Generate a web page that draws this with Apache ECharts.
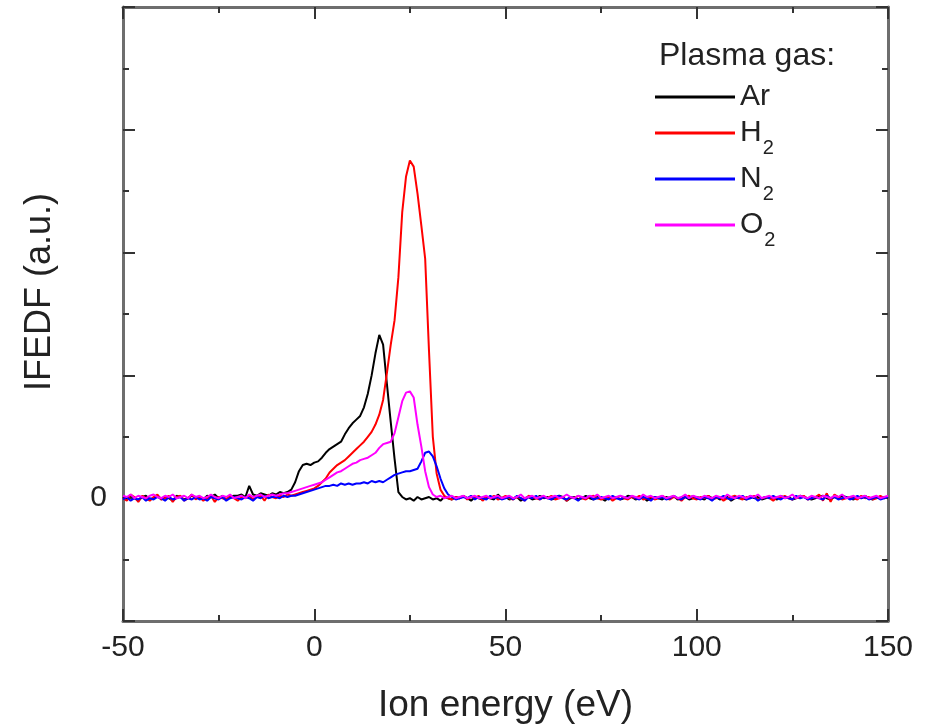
<!DOCTYPE html>
<html>
<head>
<meta charset="utf-8">
<script src="https://cdn.jsdelivr.net/npm/echarts@6/dist/echarts.min.js"></script>
<style>
html,body{margin:0;padding:0;background:#fff;}
#chart{width:936px;height:726px;}
</style>
</head>
<body>
<div id="chart"></div>
<script>
// Energy grid: -50 eV to 150 eV, 1 eV steps
var ENERGY_START = -50, ENERGY_STEP = 1;

var ar = [
0.01,-0.01,0.02,0.00,-0.02,0.01,0.02,-0.01,0.00,0.02,
-0.01,0.01,0.00,-0.02,0.02,0.01,-0.01,0.00,0.02,0.01,
0.00,-0.01,0.02,0.01,0.03,0.00,0.02,-0.01,0.01,0.02,
0.02,0.03,0.01,0.10,0.03,0.02,0.04,0.03,0.02,0.04,
0.03,0.05,0.04,0.05,0.07,0.13,0.22,0.27,0.28,0.27,
0.29,0.30,0.33,0.37,0.40,0.42,0.44,0.46,0.52,0.57,
0.61,0.64,0.67,0.74,0.85,1.00,1.18,1.33,1.25,0.93,
0.62,0.32,0.05,0.01,-0.01,0.00,-0.02,0.01,-0.01,0.00,
0.01,-0.01,0.00,-0.02,0.01,0.00,-0.01,0.01,0.00,0.02,
0.00,-0.02,0.01,0.00,-0.01,0.01,0.00,-0.01,0.03,0.00,
0.01,-0.01,0.00,0.01,-0.02,0.00,0.01,-0.01,0.00,0.02,
0.00,0.01,-0.01,0.00,0.02,0.01,-0.02,0.00,0.01,-0.01,
0.00,0.02,0.00,-0.01,0.01,0.00,-0.02,0.01,0.00,0.01,
-0.01,0.00,0.02,0.01,-0.01,0.00,0.01,-0.02,0.00,0.01,
0.00,-0.01,0.01,0.00,0.02,-0.01,0.00,0.01,-0.01,0.00,
0.01,0.00,-0.01,0.02,0.00,0.01,-0.01,0.00,0.01,-0.02,
0.00,0.01,0.00,-0.01,0.02,0.00,0.01,-0.01,0.00,0.01,
0.00,-0.01,0.02,0.00,0.01,-0.01,0.00,0.02,0.01,0.00,
-0.01,0.00,0.01,0.02,0.00,-0.01,0.01,0.00,0.02,0.01,
0.00,-0.01,0.01,0.00,0.02,0.00,-0.01,0.01,0.00,0.01,0.00
];

var h2 = [
0.00,-0.02,0.03,0.01,-0.03,0.02,0.00,-0.02,0.01,0.03,
-0.01,0.00,0.02,-0.03,0.01,0.02,-0.02,0.00,0.03,-0.01,
0.01,-0.02,0.00,0.02,-0.03,0.01,0.00,-0.01,0.02,0.00,
-0.02,0.01,0.00,0.02,-0.01,0.01,0.02,-0.02,0.03,0.01,
0.00,0.02,0.01,0.03,0.02,0.03,0.04,0.05,0.06,0.07,
0.08,0.10,0.13,0.16,0.21,0.24,0.27,0.29,0.31,0.34,
0.37,0.40,0.43,0.46,0.50,0.54,0.60,0.68,0.80,1.02,
1.25,1.45,1.80,2.33,2.62,2.75,2.70,2.48,2.22,1.95,
1.20,0.50,0.20,0.07,0.02,0.00,-0.01,0.01,0.00,0.02,
-0.01,0.01,0.00,0.02,-0.02,0.01,0.00,0.02,-0.01,0.00,
0.02,0.00,-0.01,0.01,0.00,-0.02,0.02,0.01,0.00,-0.01,
0.01,0.00,0.02,-0.01,0.00,0.01,-0.02,0.01,0.00,0.02,
0.00,-0.01,0.01,0.02,0.00,-0.01,0.00,0.01,-0.02,0.00,
0.02,0.00,-0.01,0.01,0.00,0.02,-0.01,0.00,0.01,-0.01,
0.00,0.02,0.00,-0.01,0.01,0.00,-0.02,0.01,0.02,0.00,
-0.01,0.01,0.00,0.02,-0.01,0.00,0.01,-0.02,0.00,0.01,
0.02,0.00,-0.01,0.01,0.00,0.02,-0.01,0.00,0.01,0.00,
-0.02,0.01,0.00,0.02,0.00,-0.01,0.01,0.00,0.02,-0.01,
0.00,0.01,0.03,-0.02,0.04,-0.03,0.03,0.01,-0.01,0.00,
0.01,0.00,-0.01,0.02,0.00,0.01,-0.01,0.00,0.02,0.00,0.01
];

var n2 = [
-0.01,0.01,-0.02,0.00,-0.01,0.01,-0.02,0.00,-0.01,0.01,
0.00,-0.02,0.01,-0.01,0.00,0.01,-0.02,0.00,-0.01,0.01,
-0.01,0.00,-0.02,0.01,0.00,-0.01,0.01,-0.02,0.00,0.01,
0.00,-0.01,0.01,0.00,-0.02,0.01,0.00,0.02,0.00,0.01,
0.01,0.00,0.02,0.01,0.02,0.02,0.03,0.04,0.05,0.06,
0.07,0.08,0.09,0.10,0.10,0.11,0.10,0.12,0.11,0.12,
0.11,0.12,0.12,0.13,0.12,0.14,0.13,0.14,0.13,0.15,
0.17,0.19,0.20,0.21,0.22,0.22,0.23,0.24,0.30,0.37,
0.38,0.34,0.26,0.16,0.08,0.03,0.01,-0.01,0.00,0.01,
0.00,0.02,-0.01,0.01,0.00,-0.01,0.02,0.00,0.01,-0.01,
0.00,0.01,-0.01,0.02,0.00,-0.02,0.01,0.00,0.02,-0.01,
0.01,0.00,-0.01,0.01,0.02,0.00,-0.01,0.01,0.00,-0.02,
0.01,0.00,0.02,-0.01,0.00,0.01,0.00,-0.01,0.02,0.00,
-0.01,0.01,0.00,0.02,0.00,-0.01,0.01,0.00,-0.02,0.01,
0.00,0.01,-0.01,0.00,0.02,0.00,-0.01,0.01,0.00,0.02,
0.00,-0.01,0.01,0.00,-0.02,0.01,0.00,0.02,0.00,-0.01,
0.01,0.00,0.02,-0.01,0.00,0.01,-0.02,0.00,0.01,0.00,
0.02,0.00,-0.01,0.01,0.00,-0.01,0.02,0.00,0.01,-0.01,
0.00,0.01,0.00,-0.01,0.02,0.00,0.01,-0.01,0.00,0.01,
-0.01,0.00,0.02,0.00,0.01,-0.01,0.00,0.01,-0.01,0.00,0.01
];

var o2 = [
0.02,0.01,0.03,0.00,0.02,0.01,0.00,0.02,0.03,0.01,
0.00,0.02,0.01,0.03,0.00,0.01,0.02,0.00,0.03,0.01,
0.02,0.00,0.01,0.03,0.01,0.00,0.02,0.01,0.03,0.00,
0.01,0.02,0.00,0.03,0.01,0.02,0.03,0.01,0.02,0.03,
0.02,0.03,0.04,0.04,0.05,0.06,0.07,0.08,0.09,0.10,
0.11,0.12,0.13,0.15,0.17,0.19,0.21,0.22,0.24,0.26,
0.28,0.29,0.31,0.32,0.33,0.35,0.37,0.41,0.44,0.45,
0.46,0.53,0.66,0.79,0.86,0.87,0.82,0.60,0.42,0.22,
0.09,0.03,0.01,0.02,0.00,0.01,0.02,0.00,0.01,0.02,
0.00,0.01,0.02,0.00,0.01,0.02,0.00,0.01,0.02,0.00,
0.01,0.02,0.00,0.01,0.03,0.00,0.01,0.02,0.00,0.01,
0.02,0.00,0.01,0.02,0.00,0.01,0.03,0.01,0.00,0.02,
0.01,0.00,0.02,0.01,0.03,0.00,0.01,0.02,0.00,0.01,
0.02,0.01,0.00,0.02,0.01,0.00,0.03,0.01,0.02,0.00,
0.01,0.02,0.00,0.01,0.02,0.00,0.01,0.03,0.00,0.02,
0.01,0.00,0.02,0.01,0.00,0.02,0.01,0.00,0.03,0.01,
0.00,0.02,0.01,0.00,0.02,0.01,0.03,0.00,0.01,0.02,
0.00,0.01,0.02,0.00,0.01,0.03,0.00,0.02,0.01,0.00,
0.02,0.01,0.00,0.02,0.01,0.00,0.02,0.01,0.03,0.00,
0.01,0.02,0.00,0.01,0.02,0.00,0.01,0.02,0.00,0.01,0.02
];

var seriesNames = ['Ar', 'H2', 'N2', 'O2'];
var seriesColors = ['#000000', '#ff0000', '#0000ff', '#ff00ff'];
var seriesValues = [ar, h2, n2, o2];

var xTicks = [-50, 0, 50, 100, 150];
var yZeroLabel = '0';

function pairs(vals) {
  var out = [];
  for (var i = 0; i < vals.length; i++) out.push([ENERGY_START + i * ENERGY_STEP, vals[i]]);
  return out;
}

var chart = echarts.init(document.getElementById('chart'), null, {renderer: 'canvas'});
var font = 'Liberation Sans, Arial, sans-serif';
var axisColor = '#6e6e6e';
var tickColor = '#333';

var legendRich = {
  a: {fontSize: 30, fontFamily: font, color: '#222', lineHeight: 30},
  n: {fontSize: 30, fontFamily: font, color: '#222', lineHeight: 50, verticalAlign: 'middle'},
  s: {fontSize: 20, fontFamily: font, color: '#222', lineHeight: 20, verticalAlign: 'bottom', padding: [0, 0, 0, 1]}
};

var option = {
  animation: false,
  backgroundColor: '#fff',
  title: {
    text: 'Plasma gas:',
    left: 659, top: 40, padding: 0,
    textStyle: {fontSize: 32, fontWeight: 'normal', fontFamily: font, color: '#222'}
  },
  legend: {
    orient: 'vertical',
    left: 655, top: 82, padding: 0,
    icon: 'rect',
    itemWidth: 80, itemHeight: 3, itemGap: 6, itemTextGap: 6,
    data: seriesNames,
    formatter: function (name) {
      if (name.length === 2 && /\d/.test(name[1])) return '{n|' + name[0] + '}{s|' + name[1] + '}';
      return '{a|' + name + '}';
    },
    textStyle: {fontSize: 30, fontFamily: font, color: '#222', rich: legendRich}
  },
  grid: {left: 123, right: 48, top: 7, bottom: 105, containLabel: false, outerBoundsMode: 'none'},
  xAxis: [{
    type: 'value', position: 'bottom', min: -50, max: 150, interval: 50,
    axisLine: {show: true, onZero: false, lineStyle: {color: axisColor, width: 3}},
    axisTick: {show: true, inside: true, length: 12, lineStyle: {color: tickColor, width: 2}},
    minorTick: {show: true, splitNumber: 2, length: 6, lineStyle: {color: tickColor, width: 2}},
    splitLine: {show: false},
    axisLabel: {margin: 12, fontSize: 30, fontFamily: font, color: '#222',
      formatter: function (v) { return xTicks.indexOf(v) >= 0 ? String(v) : ''; }},
    name: 'Ion energy (eV)', nameLocation: 'middle', nameGap: 66,
    nameTextStyle: {fontSize: 37, fontFamily: font, color: '#222'}
  }, {
    type: 'value', position: 'top', min: -50, max: 150, interval: 50,
    axisLine: {show: true, onZero: false, lineStyle: {color: axisColor, width: 3}},
    axisTick: {show: true, inside: true, length: 12, lineStyle: {color: tickColor, width: 2}},
    minorTick: {show: true, splitNumber: 2, length: 6, lineStyle: {color: tickColor, width: 2}},
    splitLine: {show: false},
    axisLabel: {show: false}
  }],
  yAxis: [{
    type: 'value', position: 'left', min: -1, max: 4, interval: 1,
    axisLine: {show: true, onZero: false, lineStyle: {color: axisColor, width: 3}},
    axisTick: {show: true, inside: true, length: 12, lineStyle: {color: tickColor, width: 2}},
    minorTick: {show: true, splitNumber: 2, length: 6, lineStyle: {color: tickColor, width: 2}},
    splitLine: {show: false},
    axisLabel: {margin: 16, fontSize: 30, fontFamily: font, color: '#222',
      formatter: function (v) { return v === 0 ? yZeroLabel : ''; }},
    name: 'IFEDF (a.u.)', nameLocation: 'middle', nameGap: 65,
    nameTextStyle: {fontSize: 36, fontFamily: font, color: '#222', padding: [0, 0, 0, 44]}
  }, {
    type: 'value', position: 'right', min: -1, max: 4, interval: 1,
    axisLine: {show: true, onZero: false, lineStyle: {color: axisColor, width: 3}},
    axisTick: {show: true, inside: true, length: 12, lineStyle: {color: tickColor, width: 2}},
    minorTick: {show: true, splitNumber: 2, length: 6, lineStyle: {color: tickColor, width: 2}},
    splitLine: {show: false},
    axisLabel: {show: false}
  }],
  series: seriesNames.map(function (name, k) {
    return {
      name: name, type: 'line', xAxisIndex: 0, yAxisIndex: 0,
      data: pairs(seriesValues[k]),
      symbol: 'none', showSymbol: false,
      lineStyle: {color: seriesColors[k], width: 2},
      itemStyle: {color: seriesColors[k]},
      z: 2 + k
    };
  })
};
chart.setOption(option);
</script>
</body>
</html>
